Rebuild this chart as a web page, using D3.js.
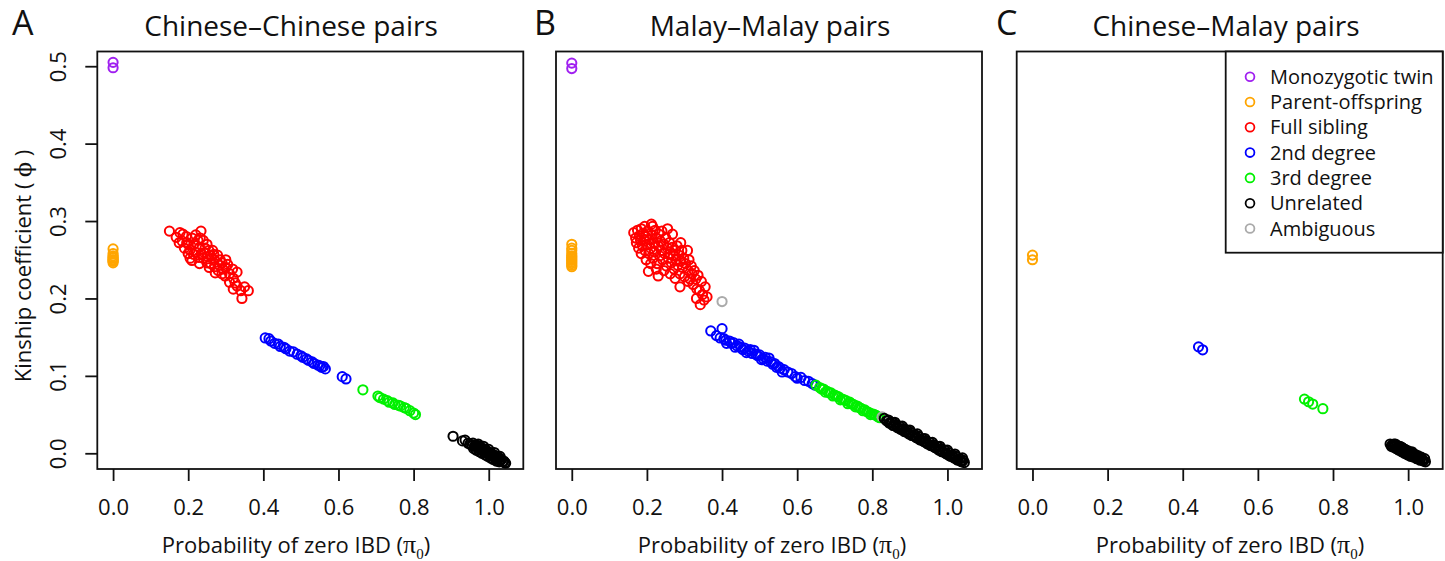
<!DOCTYPE html>
<html>
<head>
<meta charset="utf-8">
<script src="https://cdn.jsdelivr.net/npm/d3@7"></script>
<style>
  body { margin: 0; background: #fff; }
  svg { display: block; }
  text { font-family: "Open Sans", sans-serif; fill: #111; }
</style>
</head>
<body>
<svg id="chart" width="1445" height="561"></svg>
<script>
// ---- data ----
const relations = ['Monozygotic twin', 'Parent-offspring', 'Full sibling', '2nd degree', '3rd degree', 'Unrelated', 'Ambiguous'];
const relationColors = ['#a020f0', '#ffa500', '#ff0000', '#0000ff', '#00f000', '#000000', '#aaaaaa'];
const panelTitles = ['Chinese\u2013Chinese pairs', 'Malay\u2013Malay pairs', 'Chinese\u2013Malay pairs'];
const panelLetters = ['A', 'B', 'C'];
const xTicks = [0, 0.2, 0.4, 0.6, 0.8, 1.0];
const yTicks = [0, 0.1, 0.2, 0.3, 0.4, 0.5];

// A: Chinese-Chinese  [pi0, kinship]
const ccTwin = [[0, 0.498], [0, 0.505]];
const ccParent = [[0, 0.264], [0, 0.258], [0, 0.255], [0, 0.252], [0, 0.25], [0, 0.248], [0, 0.246], [0, 0.253], [0, 0.249]];
const ccFull = [[0.15, 0.287], [0.168, 0.279], [0.178, 0.285], [0.186, 0.283], [0.184, 0.274], [0.2, 0.27], [0.21, 0.278],
  [0.22, 0.282], [0.234, 0.287], [0.24, 0.275], [0.19, 0.265], [0.2, 0.258], [0.21, 0.249], [0.22, 0.26], [0.23, 0.266],
  [0.25, 0.27], [0.255, 0.262], [0.26, 0.255], [0.24, 0.252], [0.23, 0.245], [0.25, 0.246], [0.27, 0.25], [0.278, 0.256],
  [0.29, 0.246], [0.3, 0.25], [0.27, 0.241], [0.28, 0.236], [0.3, 0.24], [0.31, 0.232], [0.32, 0.226], [0.31, 0.221],
  [0.298, 0.229], [0.33, 0.234], [0.33, 0.216], [0.34, 0.21], [0.343, 0.2], [0.35, 0.215], [0.36, 0.21], [0.215, 0.27],
  [0.226, 0.275], [0.245, 0.265], [0.265, 0.262], [0.205, 0.252], [0.26, 0.245], [0.29, 0.232], [0.32, 0.212], [0.195, 0.28],
  [0.283, 0.243], [0.235, 0.258], [0.176, 0.272], [0.205, 0.263], [0.214, 0.257], [0.228, 0.253], [0.243, 0.259],
  [0.252, 0.254], [0.268, 0.257], [0.285, 0.25], [0.305, 0.244], [0.318, 0.238], [0.232, 0.278], [0.196, 0.272],
  [0.256, 0.24], [0.272, 0.233], [0.292, 0.238], [0.325, 0.22]];
const cc2nd = [[0.405, 0.149], [0.415, 0.148], [0.42, 0.145], [0.43, 0.142], [0.44, 0.141], [0.445, 0.138], [0.455, 0.137],
  [0.46, 0.135], [0.47, 0.132], [0.48, 0.131], [0.49, 0.128], [0.5, 0.126], [0.505, 0.124], [0.515, 0.122], [0.52, 0.12],
  [0.53, 0.118], [0.535, 0.116], [0.545, 0.114], [0.55, 0.113], [0.555, 0.111], [0.56, 0.112], [0.565, 0.109],
  [0.61, 0.099], [0.62, 0.096]];
const cc3rd = [[0.665, 0.082], [0.705, 0.074], [0.71, 0.072], [0.72, 0.07], [0.73, 0.068], [0.735, 0.066], [0.745, 0.065],
  [0.75, 0.063], [0.76, 0.062], [0.765, 0.061], [0.775, 0.059], [0.78, 0.058], [0.79, 0.055], [0.8, 0.052], [0.805, 0.05]];
const ccUnrel = [[0.905, 0.022], [0.93, 0.016], [0.937, 0.017], [0.945, 0.013], [0.95, 0.012], [0.955, 0.01], [0.958, 0.013],
  [0.962, 0.009], [0.965, 0.011], [0.968, 0.008], [0.97, 0.01], [0.973, 0.006], [0.976, 0.009], [0.978, 0.005], [0.98, 0.007],
  [0.983, 0.004], [0.985, 0.006], [0.988, 0.002], [0.99, 0.005], [0.993, 0.001], [0.995, 0.003], [0.998, 0.0], [1.0, 0.002],
  [1.003, -0.002], [1.005, 0.0], [1.008, -0.003], [1.01, -0.001], [1.013, -0.005], [1.016, -0.003], [1.019, -0.006],
  [1.022, -0.004], [1.025, -0.008], [1.028, -0.006], [1.031, -0.009], [1.034, -0.008], [1.037, -0.011], [1.04, -0.01],
  [1.043, -0.012], [1.045, -0.013], [0.96, 0.006], [0.967, 0.004], [0.975, 0.002], [0.982, 0.0], [0.99, -0.002],
  [0.997, -0.004], [1.005, -0.006], [1.012, -0.008], [1.02, -0.01], [1.028, -0.011], [0.972, 0.012], [0.986, 0.009],
  [1.0, 0.005], [1.015, 0.001], [1.03, -0.004]];
const ccAmbig = [];

// B: Malay-Malay
const mmTwin = [[0, 0.497], [0, 0.504]];
const mmParent = [[0, 0.27], [0, 0.265], [0, 0.262], [0, 0.258], [0, 0.255], [0, 0.253], [0, 0.251], [0, 0.249],
  [0, 0.247], [0, 0.245], [0, 0.243], [0, 0.241]];
const mmFull = [[0.165, 0.285], [0.17, 0.278], [0.172, 0.272], [0.175, 0.288], [0.178, 0.265], [0.18, 0.281], [0.183, 0.275],
  [0.185, 0.29], [0.188, 0.268], [0.19, 0.284], [0.192, 0.276], [0.195, 0.262], [0.197, 0.28], [0.2, 0.27], [0.202, 0.287],
  [0.205, 0.258], [0.207, 0.276], [0.21, 0.265], [0.212, 0.296], [0.214, 0.282], [0.216, 0.252], [0.218, 0.272], [0.22, 0.26],
  [0.222, 0.288], [0.225, 0.278], [0.227, 0.245], [0.23, 0.268], [0.232, 0.283], [0.234, 0.255], [0.236, 0.274],
  [0.238, 0.262], [0.24, 0.287], [0.242, 0.25], [0.245, 0.27], [0.247, 0.258], [0.25, 0.278], [0.252, 0.242], [0.255, 0.265],
  [0.257, 0.252], [0.26, 0.272], [0.262, 0.258], [0.265, 0.246], [0.267, 0.266], [0.27, 0.255], [0.272, 0.238],
  [0.275, 0.262], [0.277, 0.25], [0.28, 0.268], [0.282, 0.243], [0.285, 0.256], [0.288, 0.232], [0.29, 0.248],
  [0.293, 0.262], [0.295, 0.24], [0.298, 0.252], [0.3, 0.228], [0.303, 0.245], [0.308, 0.262], [0.31, 0.236], [0.312, 0.25],
  [0.315, 0.225], [0.318, 0.242], [0.32, 0.232], [0.323, 0.218], [0.326, 0.236], [0.33, 0.225], [0.333, 0.212], [0.336, 0.23],
  [0.34, 0.21], [0.342, 0.192], [0.345, 0.222], [0.348, 0.205], [0.352, 0.198], [0.355, 0.215], [0.36, 0.202], [0.204, 0.235],
  [0.23, 0.229], [0.262, 0.232], [0.288, 0.215], [0.21, 0.245], [0.198, 0.25], [0.185, 0.258], [0.225, 0.238], [0.245, 0.236],
  [0.275, 0.226], [0.268, 0.283], [0.255, 0.29], [0.215, 0.293], [0.194, 0.293], [0.31, 0.222], [0.332, 0.2], [0.29, 0.272]];
const mm2nd = [[0.37, 0.158], [0.4, 0.161], [0.385, 0.152], [0.395, 0.149], [0.405, 0.148], [0.41, 0.146], [0.42, 0.145],
  [0.425, 0.142], [0.43, 0.143], [0.44, 0.139], [0.445, 0.141], [0.45, 0.137], [0.455, 0.134], [0.46, 0.136], [0.47, 0.132],
  [0.475, 0.134], [0.48, 0.129], [0.49, 0.128], [0.495, 0.126], [0.5, 0.127], [0.51, 0.122], [0.515, 0.124], [0.52, 0.119],
  [0.53, 0.118], [0.535, 0.115], [0.54, 0.116], [0.55, 0.112], [0.555, 0.11], [0.56, 0.105], [0.565, 0.108], [0.575, 0.105],
  [0.585, 0.103], [0.595, 0.099], [0.6, 0.097], [0.61, 0.098], [0.62, 0.094], [0.63, 0.093], [0.64, 0.09], [0.647, 0.088],
  [0.412, 0.142], [0.435, 0.137], [0.465, 0.13], [0.485, 0.133], [0.505, 0.121], [0.525, 0.123], [0.545, 0.111]];
const mm3rd = [[0.65, 0.088], [0.66, 0.085], [0.665, 0.083], [0.67, 0.083], [0.68, 0.08], [0.685, 0.078], [0.69, 0.078],
  [0.7, 0.075], [0.705, 0.074], [0.71, 0.073], [0.72, 0.07], [0.725, 0.069], [0.73, 0.068], [0.74, 0.066], [0.745, 0.064],
  [0.75, 0.063], [0.76, 0.061], [0.765, 0.059], [0.77, 0.058], [0.78, 0.056], [0.785, 0.054], [0.79, 0.053], [0.8, 0.051],
  [0.805, 0.05], [0.81, 0.049], [0.815, 0.047], [0.82, 0.046], [0.675, 0.079], [0.695, 0.074], [0.715, 0.069],
  [0.735, 0.064], [0.755, 0.06], [0.775, 0.055], [0.795, 0.05]];
const mmAmbig = [[0.4, 0.196], [0.826, 0.047]];
const mmUnrel = [[0.832, 0.045], [0.838, 0.042], [0.843, 0.043], [0.848, 0.039], [0.853, 0.04], [0.858, 0.036],
  [0.863, 0.037], [0.868, 0.033], [0.873, 0.035], [0.878, 0.031], [0.883, 0.032], [0.888, 0.028], [0.893, 0.03],
  [0.898, 0.025], [0.903, 0.027], [0.908, 0.023], [0.913, 0.024], [0.918, 0.02], [0.923, 0.022], [0.928, 0.017],
  [0.933, 0.019], [0.938, 0.015], [0.943, 0.016], [0.948, 0.012], [0.953, 0.014], [0.958, 0.01], [0.963, 0.011],
  [0.968, 0.007], [0.973, 0.009], [0.978, 0.004], [0.983, 0.006], [0.988, 0.002], [0.993, 0.004], [0.998, -0.001],
  [1.003, 0.001], [1.008, -0.004], [1.013, -0.002], [1.018, -0.006], [1.023, -0.004], [1.028, -0.009], [1.033, -0.007],
  [1.038, -0.011], [1.042, -0.009], [1.045, -0.012],
  [0.845, 0.039], [0.855, 0.036], [0.865, 0.034], [0.875, 0.031], [0.885, 0.028], [0.895, 0.026], [0.905, 0.023],
  [0.915, 0.021], [0.925, 0.018], [0.935, 0.016], [0.945, 0.013], [0.955, 0.01], [0.965, 0.008], [0.975, 0.005],
  [0.985, 0.002], [0.995, 0.0], [1.005, -0.003], [1.015, -0.005], [1.025, -0.008], [1.035, -0.01],
  [0.86, 0.04], [0.88, 0.035], [0.9, 0.03], [0.92, 0.025], [0.94, 0.019], [0.96, 0.014], [0.98, 0.009], [1.0, 0.004],
  [1.02, -0.001], [1.04, -0.006]];

// C: Chinese-Malay
const cmTwin = [];
const cmParent = [[0, 0.25], [0, 0.256]];
const cmFull = [];
const cm2nd = [[0.442, 0.1375], [0.453, 0.1337]];
const cm3rd = [[0.724, 0.07], [0.735, 0.0666], [0.746, 0.0636], [0.773, 0.0576]];
const cmAmbig = [];
const cmUnrel = [[0.952, 0.012], [0.955, 0.009], [0.958, 0.011], [0.962, 0.012], [0.965, 0.009], [0.968, 0.006], [0.97, 0.01],
  [0.973, 0.007], [0.976, 0.004], [0.978, 0.009], [0.98, 0.005], [0.983, 0.002], [0.985, 0.007], [0.988, 0.003], [0.99, 0.0],
  [0.992, 0.005], [0.995, 0.001], [0.998, -0.002], [1.0, 0.003], [1.003, -0.001], [1.006, -0.004], [1.008, 0.001],
  [1.011, -0.002], [1.014, -0.005], [1.017, -0.001], [1.02, -0.004], [1.023, -0.007], [1.026, -0.003], [1.029, -0.006],
  [1.032, -0.009], [1.035, -0.005], [1.038, -0.008], [1.041, -0.01], [1.044, -0.007], [1.046, -0.011],
  [0.96, 0.008], [0.972, 0.005], [0.982, 0.008], [0.994, 0.004], [1.005, 0.0], [1.016, -0.003], [1.027, -0.006],
  [1.038, -0.009], [0.966, 0.012], [0.987, 0.006], [1.01, 0.002]];

// draw order matches the original (unrelated last so it covers neighbours)
const panels = [
  { groups: [ccTwin, ccParent, ccFull, cc2nd, cc3rd, ccAmbig, ccUnrel] },
  { groups: [mmTwin, mmParent, mmFull, mm2nd, mm3rd, mmAmbig, mmUnrel] },
  { groups: [cmTwin, cmParent, cmFull, cm2nd, cm3rd, cmAmbig, cmUnrel] }
];
const groupColor = [0, 1, 2, 3, 4, 6, 5]; // index into relationColors

// ---- layout ----
const plotLeft = [97.3, 556, 1016.7];
const plotW = 426;
const plotTop = 51.5;
const plotBottom = 469;
const titleX = [291, 770, 1226];
const xLabelX = [296, 772, 1230];
const letterX = [12, 534, 996];
const ptR = 4.6;
const ptW = 2;

const svg = d3.select('#chart');

const y = d3.scaleLinear().domain([-0.0203, 0.519]).range([plotBottom, plotTop]);

panels.forEach(function(p, i) {
  const x = d3.scaleLinear().domain([-0.042, 1.092]).range([plotLeft[i], plotLeft[i] + plotW]);
  const g = svg.append('g');

  // points
  p.groups.forEach(function(pts, k) {
    g.append('g').selectAll('circle')
      .data(pts)
      .enter().append('circle')
      .attr('cx', function(d) { return x(d[0]); })
      .attr('cy', function(d) { return y(d[1]); })
      .attr('r', ptR)
      .attr('fill', 'none')
      .attr('stroke', relationColors[groupColor[k]])
      .attr('stroke-width', ptW);
  });

  // box
  g.append('rect')
    .attr('x', plotLeft[i]).attr('y', plotTop)
    .attr('width', plotW).attr('height', plotBottom - plotTop)
    .attr('fill', 'none').attr('stroke', '#111').attr('stroke-width', 1.8);

  // x axis
  const xa = g.append('g')
    .attr('transform', 'translate(0,' + plotBottom + ')')
    .call(d3.axisBottom(x).tickValues(xTicks).tickFormat(d3.format('.1f')).tickSize(12).tickSizeOuter(0));
  xa.select('.domain').remove();
  xa.selectAll('line').attr('stroke', '#111').attr('stroke-width', 1.8);
  xa.selectAll('text').attr('y', 46).attr('dy', 0)
    .style('font-size', '22px').style('font-family', '"Open Sans", sans-serif').attr('fill', '#111');

  // y axis only on the first panel
  if (i === 0) {
    const ya = g.append('g')
      .attr('transform', 'translate(' + plotLeft[i] + ',0)')
      .call(d3.axisLeft(y).tickValues(yTicks).tickFormat(d3.format('.1f')).tickSize(12).tickSizeOuter(0));
    ya.select('.domain').remove();
    ya.selectAll('line').attr('stroke', '#111').attr('stroke-width', 1.8);
    ya.selectAll('text')
      .attr('transform', 'rotate(-90)')
      .attr('x', 0).attr('y', -31).attr('dy', 0)
      .attr('text-anchor', 'middle')
      .style('font-size', '22px').style('font-family', '"Open Sans", sans-serif').attr('fill', '#111');

    const yl = svg.append('text')
      .attr('transform', 'translate(31,' + 266 + ') rotate(-90)')
      .attr('text-anchor', 'middle')
      .style('font-size', '22px');
    yl.append('tspan').text('Kinship coefficient ( ');
    yl.append('tspan').style('font-family', '"DejaVu Serif", serif').text('\u03d5');
    yl.append('tspan').text(' )');
  }

  // x label
  const xl = svg.append('text')
    .attr('x', xLabelX[i]).attr('y', 553)
    .attr('text-anchor', 'middle')
    .style('font-size', '22px');
  xl.append('tspan').text('Probability of zero IBD (');
  xl.append('tspan').style('font-family', '"Liberation Serif", serif').style('font-size', '26px').text('\u03c0');
  xl.append('tspan').attr('dy', 6).style('font-size', '15px').style('font-family', '"Liberation Serif", serif').text('0');
  xl.append('tspan').attr('dy', -6).text(')');

  // title and panel letter
  svg.append('text')
    .attr('x', titleX[i]).attr('y', 36)
    .attr('text-anchor', 'middle')
    .style('font-size', '28px')
    .text(panelTitles[i]);
  svg.append('text')
    .attr('x', letterX[i]).attr('y', 35)
    .style('font-size', '34px')
    .text(panelLetters[i]);
});

// legend in panel C
const legX = 1225.7;
const legRight = plotLeft[2] + plotW;
const legBottom = 252.7;
const legend = svg.append('g');
legend.append('rect')
  .attr('x', legX).attr('y', plotTop)
  .attr('width', legRight - legX).attr('height', legBottom - plotTop)
  .attr('fill', '#fff').attr('stroke', '#111').attr('stroke-width', 1.8);
const rows = legend.selectAll('g.row')
  .data(relations)
  .enter().append('g')
  .attr('class', 'row')
  .attr('transform', function(d, k) { return 'translate(0,' + (76.7 + k * 25.3) + ')'; });
rows.append('circle')
  .attr('cx', 1250).attr('cy', 0).attr('r', 4.4)
  .attr('fill', 'none')
  .attr('stroke', function(d, k) { return relationColors[k]; })
  .attr('stroke-width', 1.8);
rows.append('text')
  .attr('x', 1270).attr('y', 7)
  .style('font-size', '20px')
  .text(function(d) { return d; });
</script>
</body>
</html>
